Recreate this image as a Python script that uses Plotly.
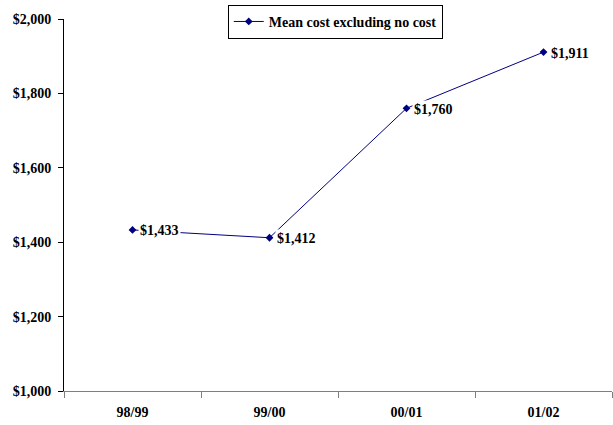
import plotly.graph_objects as go

categories = ["98/99", "99/00", "00/01", "01/02"]
mean_cost = [1433, 1412, 1760, 1911]
series_name = "Mean cost excluding no cost"
y_ticks = [1000, 1200, 1400, 1600, 1800, 2000]
y_tick_labels = ["$1,000", "$1,200", "$1,400", "$1,600", "$1,800", "$2,000"]

FONT = dict(family="Times New Roman, Times, serif", size=14, color="black", weight="bold")
NAVY = "#000080"

fig = go.Figure()
fig.add_trace(go.Scatter(
    x=categories, y=mean_cost, mode="lines+markers", name=series_name,
    line=dict(color=NAVY, width=1),
    marker=dict(symbol="diamond", size=6, color=NAVY),
))

for c, v in zip(categories, mean_cost):
    fig.add_annotation(
        x=c, y=v, xref="x", yref="y", text=f"${v:,}",
        showarrow=False, xanchor="left", yanchor="middle",
        xshift=5, yshift=-1, bgcolor="white", borderpad=1,
        font=FONT,
    )

fig.update_layout(
    width=613, height=425,
    margin=dict(l=64, r=1, t=19, b=34, autoexpand=False),
    paper_bgcolor="white", plot_bgcolor="white",
    font=FONT,
    showlegend=True,
    legend=dict(
        x=0.495, y=1.038, xanchor="center", yanchor="top",
        bordercolor="black", borderwidth=1, bgcolor="white",
        font=FONT, itemwidth=30,
        tracegroupgap=0,
    ),
    xaxis=dict(
        type="category", tickson="boundaries", ticks="outside", ticklen=6,
        tickcolor="#7f7f7f", showline=True, linecolor="#7f7f7f", linewidth=1,
        showgrid=False, zeroline=False, tickfont=FONT, range=[-0.5, 3.5],
        automargin=False, ticklabelstandoff=8,
    ),
    yaxis=dict(
        range=[1000, 2000], tickvals=y_ticks, ticktext=y_tick_labels,
        ticks="outside", ticklen=5, tickcolor="black", showline=True,
        linecolor="black", linewidth=1, showgrid=False, zeroline=False,
        tickfont=FONT, automargin=False, ticklabelstandoff=4,
    ),
)

fig.write_html(
    "out.html",
    config={"displayModeBar": False},
    post_script="document.body.style.margin='0';document.body.style.padding='0';",
)
